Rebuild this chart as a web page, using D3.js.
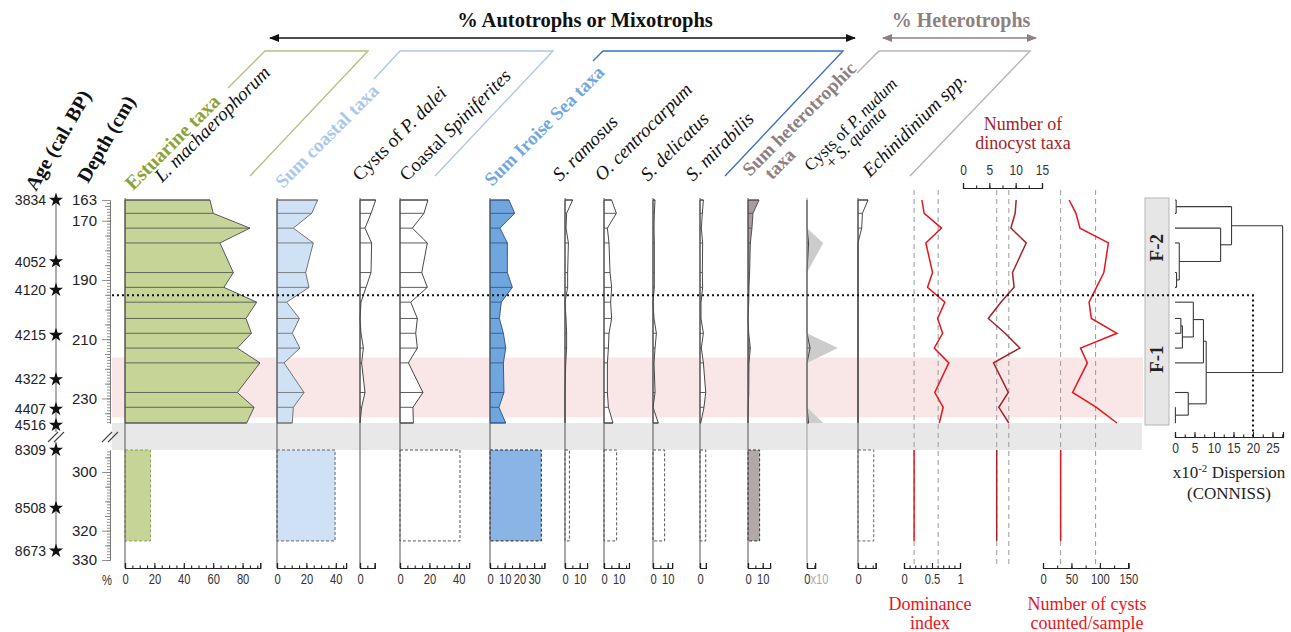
<!DOCTYPE html>
<html>
<head>
<meta charset="utf-8">
<title>Dinocyst diagram</title>
<script src="https://cdn.jsdelivr.net/npm/d3@7/dist/d3.min.js"></script>
<style>
  html,body{margin:0;padding:0;background:#fff;}
  svg{display:block;}
  .serif{font-family:"Liberation Serif","Times New Roman",serif;}
  .sans{font-family:"Liberation Sans",Arial,sans-serif;}
</style>
</head>
<body>
<svg id="chart" width="1291" height="632"></svg>
<script>
// ---------------- data ----------------
// sample depths (cm) of the upper section and the depth interval of the lower section
const sampleDepths = [163, 167.5, 172.5, 177.5, 187.5, 192.5, 197.5, 203, 208, 213, 218, 228, 233, 238.3];
const lowerInterval = [292.5, 323.5];
const highlightInterval = [216.2, 236.4];
const zoneBoundary = 195.2;

const ageLabels = [3834, 4052, 4120, 4215, 4322, 4407, 4516, 8309, 8508, 8673];
const ageDepths = [163, 183.8, 193.4, 208.6, 223.6, 233.6, 239.0, 292.5, 312.3, 326.9];
const depthLabelsUpper = [163, 170, 190, 210, 230];
const depthLabelsLower = [300, 320, 330];

const taxaNames = ["L. machaerophorum", "Sum coastal taxa", "Cysts of P. dalei", "Coastal Spiniferites",
  "Sum Iroise Sea taxa", "S. ramosus", "O. centrocarpum", "S. delicatus", "S. mirabilis",
  "Sum heterotrophic taxa", "Cysts of P. nudum + S. quanta", "Echinidinium spp."];

// percentages per sample (upper section)
const lMachaerophorum     = [57.8, 60.0, 85.0, 64.6, 73.7, 67.3, 89.6, 82.3, 86.0, 76.4, 91.8, 76.4, 87.8, 82.8];
const sumCoastal          = [27.7, 23.6, 11.1, 24.7, 19.5, 21.8, 6.6, 15.2, 10.4, 15.6, 4.8, 18.4, 11.1, 10.4];
const pDalei              = [10.7, 7.5, 3.4, 7.9, 7.5, 4.1, 0.7, 0, 0.7, 2.3, 1.1, 3.4, 1.1, 0];
const coastalSpiniferites = [19.0, 16.3, 8.4, 18.6, 14.8, 18.6, 7.3, 11.8, 10.7, 11.8, 5.7, 15.6, 8.8, 9.1];
const sumIroise           = [12.9, 16.8, 6.8, 11.8, 11.8, 15.2, 7.7, 6.4, 9.1, 10.7, 9.1, 9.5, 6.1, 10.7];
const sRamosus            = [5.2, 1.1, 0.7, 2.3, 1.8, 1.8, 0, 0.7, 1.1, 1.1, 0.5, 0, 0, 0];
const oCentrocarpum       = [5.2, 8.4, 2.3, 3.4, 4.1, 5.2, 4.5, 5.2, 3.4, 3.0, 2.3, 2.3, 3.0, 6.1];
const sDelicatus          = [1.4, 0.9, 0.7, 0.9, 0.9, 0.9, 0, 0.7, 2.3, 1.4, 0.7, 1.4, 0, 3.6];
const sMirabilis          = [2.3, 1.6, 0.9, 1.8, 1.6, 1.8, 0.7, 0.7, 2.3, 0.9, 2.3, 3.9, 2.7, 0.5];
const sumHeterotrophic    = [7.5, 3.4, 2.7, 1.6, 1.1, 0.7, 0.5, 0, 0.5, 1.6, 0.7, 0.5, 0.2, 0];
const pNudumSQuanta       = [0, 0, 0, 1.1, 0, 0, 0, 0, 0, 2.1, 0, 0, 0, 1.1];
const echinidinium        = [6.8, 3.0, 2.5, 0, 0, 0, 0, 0, 0, 0, 0, 0, 0, 0];
const percentSeries = [lMachaerophorum, sumCoastal, pDalei, coastalSpiniferites, sumIroise, sRamosus,
  oCentrocarpum, sDelicatus, sMirabilis, sumHeterotrophic, pNudumSQuanta, echinidinium];

// lower section (single interval) percentages, same order as taxaNames
const lowerPercent = [17.4, 39.5, 0, 40.8, 34.9, 3.0, 8.6, 7.9, 3.9, 7.9, 0, 10.7];

// percentage axes: extent and labelled ticks
const axisMax = [92, 47, 10, 47, 37, 15, 17, 13, 4, 15, 5.5, 12];
const axisTickLabels = [[0,20,40,60,80],[0,20,40],[0],[0,20,40],[0,10,20,30],[0,10],[0,10],[0,10],[0],[0,10],[0],[0]];
const exaggeration = 10;

// diversity indices
const dominanceIndex = [0.32, 0.36, 0.67, 0.39, 0.51, 0.42, 0.73, 0.60, 0.69, 0.54, 0.80, 0.55, 0.70, 0.63];
const dominanceLower = 0.18;
const dominanceRefs = [0.18, 0.61];
const taxaCount = [10.1, 9.9, 9.1, 12.0, 9.4, 9.7, 7.2, 4.8, 8.0, 10.8, 5.8, 8.6, 6.8, 8.7];
const taxaCountLower = 6.4;
const taxaCountRefs = [6.4, 8.7];
const cystsCounted = [46, 58, 65, 115, 107, 94, 81, 85, 130, 66, 78, 52, 94, 130];
const cystsCountedLower = 31;
const cystsCountedRefs = [31, 92.5];

// CONNISS clustering (heights in x10^-2 dispersion, leaves index sampleDepths)
const connissTree = {h: 27.6, children: [
  {h: 14.5, zone: "F-2", children: [
    {h: 0.3, children: [{leaf: 0}, {leaf: 1}]},
    {h: 11.7, children: [{leaf: 2}, {h: 1.1, children: [{leaf: 3}, {h: 0.4, children: [{leaf: 4}, {leaf: 5}]}]}]}
  ]},
  {h: 8.0, zone: "F-1", children: [
    {h: 7.3, children: [
      {h: 4.7, children: [{leaf: 6}, {h: 1.9, children: [{h: 1.5, children: [{leaf: 7}, {leaf: 8}]}, {leaf: 9}]}]},
      {leaf: 10}
    ]},
    {h: 3.4, children: [{leaf: 11}, {h: 0.1, children: [{leaf: 12}, {leaf: 13}]}]}
  ]}
]};
const connissCut = 20;
const connissTicks = [0, 5, 10, 15, 20, 25];

// ---------------- layout ----------------
const svg = d3.select("#chart");
const yUpper = d3.scaleLinear().domain([163, 238.3]).range([200, 423]);
const yLower = d3.scaleLinear().domain([292.5, 330]).range([450, 560]);
const AXIS_Y = 568;
const PX_PER_PCT = 1.47;
const PLOT_TOP = 198;
const BAND_X0 = 112, BAND_X1 = 1143;

const panelZero = [125, 277, 360, 400, 490, 565, 604, 653, 700, 748, 807, 858];
const panelStyle = [
  {fill: "#c6d497", stroke: "#4a4a4a", lowerFill: "#c6d497", lowerStroke: "#8c9a5c"},
  {fill: "#cfe1f4", stroke: "#666",    lowerFill: "#cfe1f4", lowerStroke: "#666"},
  {fill: "#ffffff", stroke: "#333",    lowerFill: "none",    lowerStroke: "#555"},
  {fill: "#ffffff", stroke: "#333",    lowerFill: "#ffffff", lowerStroke: "#555"},
  {fill: "#6fa6dd", stroke: "#2b4f86", lowerFill: "#89b4e4", lowerStroke: "#222"},
  {fill: "#ffffff", stroke: "#333",    lowerFill: "#ffffff", lowerStroke: "#555"},
  {fill: "#ffffff", stroke: "#333",    lowerFill: "#ffffff", lowerStroke: "#555"},
  {fill: "#ffffff", stroke: "#333",    lowerFill: "#ffffff", lowerStroke: "#555"},
  {fill: "#ffffff", stroke: "#333",    lowerFill: "#ffffff", lowerStroke: "#555"},
  {fill: "#a99c9c", stroke: "#444",    lowerFill: "#b3a8a8", lowerStroke: "#333"},
  {fill: "#ffffff", stroke: "#333",    lowerFill: "none",    lowerStroke: "#999"},
  {fill: "#ffffff", stroke: "#333",    lowerFill: "#ffffff", lowerStroke: "#666"}
];

// ---------------- background bands ----------------
svg.append("rect").attr("x", BAND_X0).attr("width", BAND_X1 - BAND_X0)
  .attr("y", yUpper(highlightInterval[0])).attr("height", yUpper(highlightInterval[1]) - yUpper(highlightInterval[0]))
  .attr("fill", "#f9e6e6");
svg.append("rect").attr("x", BAND_X0).attr("width", BAND_X1 - BAND_X0 - 1)
  .attr("y", yUpper(238.3)).attr("height", yLower(292.5) - yUpper(238.3))
  .attr("fill", "#e8e8e8");

// ---------------- helpers ----------------
// condensed tick labels
function styleAxisText(g, size, color) {
  g.selectAll("text").attr("class", "sans").attr("font-size", size).attr("fill", color || "#333")
    .attr("transform", "scale(0.8,1)");
  g.selectAll("line,path").attr("stroke", "#222").attr("stroke-width", 1.1);
}
function bottomAxis(x, max, labels, minorStep, fmt) {
  const minor = svg.append("g").attr("transform", `translate(0,${AXIS_Y})`)
    .call(d3.axisBottom(x).tickValues(d3.range(0, max + 1e-6, minorStep)).tickSize(-2.5).tickSizeOuter(-5).tickFormat(""));
  styleAxisText(minor, 14);
  const major = svg.append("g").attr("transform", `translate(0,${AXIS_Y})`)
    .call(d3.axisBottom(x).tickValues(labels).tickSize(-5).tickSizeOuter(-5).tickPadding(6).tickFormat(fmt || d3.format("")));
  styleAxisText(major, 14);
  return major;
}

// ---------------- percentage panels ----------------
percentSeries.forEach((vals, i) => {
  const st = panelStyle[i];
  const x0 = panelZero[i];
  const x = d3.scaleLinear().domain([0, axisMax[i]]).range([x0, x0 + axisMax[i] * PX_PER_PCT]);
  const pts = sampleDepths.map((d, j) => ({d, v: vals[j]}));
  const g = svg.append("g");

  if (i === 10) {
    // exaggerated (x10) silhouette
    g.append("path").datum(pts)
      .attr("d", d3.area().y(p => yUpper(p.d)).x0(x(0)).x1(p => x(p.v * exaggeration)))
      .attr("fill", "#cccccc");
  }
  g.append("path").datum(pts)
    .attr("d", d3.area().y(p => yUpper(p.d)).x0(x(0)).x1(p => x(p.v)))
    .attr("fill", i === 10 ? "none" : st.fill)
    .attr("stroke", st.stroke).attr("stroke-width", 0.9).attr("stroke-linejoin", "round");
  // sample lines
  g.selectAll("line.sample").data(pts.filter(p => p.v > 0)).join("line")
    .attr("x1", x(0)).attr("x2", p => x(p.v))
    .attr("y1", p => yUpper(p.d)).attr("y2", p => yUpper(p.d))
    .attr("stroke", st.stroke).attr("stroke-width", 0.8);
  // lower-section interval
  if (lowerPercent[i] > 0) {
    g.append("rect")
      .attr("x", x(0)).attr("width", x(lowerPercent[i]) - x(0))
      .attr("y", yLower(lowerInterval[0])).attr("height", yLower(lowerInterval[1]) - yLower(lowerInterval[0]))
      .attr("fill", st.lowerFill).attr("stroke", st.lowerStroke).attr("stroke-width", 1)
      .attr("stroke-dasharray", "3,2");
  }
  // zero line
  g.append("line").attr("x1", x(0)).attr("x2", x(0)).attr("y1", PLOT_TOP).attr("y2", AXIS_Y)
    .attr("stroke", i === 10 ? "#999" : "#555").attr("stroke-width", 1);

  const ax = bottomAxis(x, axisMax[i], axisTickLabels[i], 5);
  if (i === 10) {
    ax.selectAll(".tick text").text(null).attr("text-anchor", "start").attr("x", -4)
      .call(t => t.append("tspan").text("0"))
      .call(t => t.append("tspan").attr("fill", "#aaa").text("x10"));
  }
});

svg.append("text").attr("class", "sans").attr("x", 107).attr("y", 585).attr("text-anchor", "middle")
  .attr("font-size", 14).attr("fill", "#333").attr("transform", "translate(21.4,0) scale(0.8,1)").text("%");

// ---------------- diversity curves ----------------
const domX = d3.scaleLinear().domain([0, 1]).range([904, 960]);
const taxX = d3.scaleLinear().domain([0, 15]).range([963, 1042]);
const cysX = d3.scaleLinear().domain([0, 150]).range([1043, 1128.3]);

function indexCurve(x, vals, lower, refs, color) {
  svg.selectAll(null).data(refs).join("line")
    .attr("x1", d => x(d)).attr("x2", d => x(d)).attr("y1", 190).attr("y2", AXIS_Y - 3)
    .attr("stroke", "#9a9a9a").attr("stroke-width", 1).attr("stroke-dasharray", "5,4");
  svg.append("path").datum(sampleDepths.map((d, j) => [x(vals[j]), yUpper(d)]))
    .attr("d", d3.line()).attr("fill", "none").attr("stroke", color).attr("stroke-width", 1.5);
  svg.append("line").attr("x1", x(lower)).attr("x2", x(lower))
    .attr("y1", yLower(lowerInterval[0])).attr("y2", yLower(lowerInterval[1]))
    .attr("stroke", color).attr("stroke-width", 1.5);
}
indexCurve(domX, dominanceIndex, dominanceLower, dominanceRefs, "#e8151b");
indexCurve(taxX, taxaCount, taxaCountLower, taxaCountRefs, "#a3232a");
indexCurve(cysX, cystsCounted, cystsCountedLower, cystsCountedRefs, "#e8151b");

bottomAxis(domX, 1, [0, 0.5, 1], 0.1, d => d === 0.5 ? "0.5" : d3.format("d")(d));
bottomAxis(cysX, 150, [0, 50, 100, 150], 25);
{
  const minor = svg.append("g").attr("transform", "translate(0,188)")
    .call(d3.axisTop(taxX).tickValues(d3.range(0, 15.01, 2.5)).tickSize(2.5).tickSizeOuter(5).tickFormat(""));
  styleAxisText(minor, 14);
  const major = svg.append("g").attr("transform", "translate(0,188)")
    .call(d3.axisTop(taxX).tickValues([0, 5, 10, 15]).tickSize(5).tickSizeOuter(5).tickPadding(8));
  styleAxisText(major, 15);
}

// index titles
function titleLines(cx, y0, lines, color, size, lh) {
  const t = svg.append("text").attr("class", "serif").attr("text-anchor", "middle")
    .attr("font-size", size).attr("fill", color);
  lines.forEach((s, k) => t.append("tspan").attr("x", cx).attr("y", y0 + k * lh).text(s));
}
titleLines(1023, 130, ["Number of", "dinocyst taxa"], "#a3232a", 18, 19);
titleLines(930, 610, ["Dominance", "index"], "#e8151b", 18, 19);
titleLines(1087, 610, ["Number of cysts", "counted/sample"], "#e8151b", 18, 19);

// ---------------- depth and age axes ----------------
{
  const up = svg.append("g").attr("transform", "translate(110,0)");
  up.append("g").call(d3.axisLeft(yUpper).tickValues(d3.range(164, 239)).tickSize(3).tickSizeOuter(0).tickFormat(""));
  up.append("g").call(d3.axisLeft(yUpper).tickValues([165, 175, 180, 185, 195, 200, 205, 215, 220, 225, 235]).tickSize(5).tickSizeOuter(0).tickFormat(""));
  up.append("g").call(d3.axisLeft(yUpper).tickValues(depthLabelsUpper).tickSize(8).tickSizeOuter(0).tickPadding(5));
  const lo = svg.append("g").attr("transform", "translate(110,0)");
  lo.append("g").call(d3.axisLeft(yLower).tickValues(d3.range(293, 331)).tickSize(3).tickSizeOuter(0).tickFormat(""));
  lo.append("g").call(d3.axisLeft(yLower).tickValues([295, 305, 310, 315, 325]).tickSize(5).tickSizeOuter(0).tickFormat(""));
  lo.append("g").call(d3.axisLeft(yLower).tickValues(depthLabelsLower).tickSize(8).tickSizeOuter(0).tickPadding(5));
  [up, lo].forEach(g => {
    g.selectAll("line,path").attr("stroke", "#777").attr("stroke-width", 0.8);
    g.selectAll("text").attr("class", "sans").attr("font-size", 15).attr("fill", "#222");
  });
}
const yAge = d => d < 260 ? yUpper(d) : yLower(d);
svg.append("line").attr("x1", 56).attr("x2", 56).attr("y1", yAge(ageDepths[0])).attr("y2", 432)
  .attr("stroke", "#777").attr("stroke-width", 1.2);
svg.append("line").attr("x1", 56).attr("x2", 56).attr("y1", 442).attr("y2", yAge(ageDepths[ageDepths.length - 1]))
  .attr("stroke", "#777").attr("stroke-width", 1.2);
// section break marks
[[56, 437], [110, 437]].forEach(([cx, cy]) => {
  [-3, 3].forEach(o => svg.append("line")
    .attr("x1", cx - 5 + o).attr("y1", cy + 5).attr("x2", cx + 5 + o).attr("y2", cy - 5)
    .attr("stroke", "#444").attr("stroke-width", 1.1));
});
svg.selectAll("path.star").data(ageDepths).join("path")
  .attr("transform", d => `translate(56,${yAge(d)})`)
  .attr("d", d3.symbol(d3.symbolStar, 62)).attr("fill", "#111");
svg.selectAll("text.age").data(ageLabels).join("text")
  .attr("class", "sans").attr("font-size", 14).attr("fill", "#222")
  .attr("text-anchor", "end").attr("x", 46).attr("y", (d, k) => yAge(ageDepths[k]) + 5).text(d => d);

// ---------------- CONNISS dendrogram ----------------
const dx = d3.scaleLinear().domain([0, 27.7]).range([1175, 1283]);
const root = d3.hierarchy(connissTree);
root.eachAfter(n => {
  if (!n.children) { n.py = yUpper(sampleDepths[n.data.leaf]); n.ph = 0; }
  else { n.py = d3.mean(n.children, c => c.py); n.ph = n.data.h; }
});
const dg = svg.append("g").attr("stroke", "#3a3a3a").attr("stroke-width", 1.1).attr("fill", "none");
root.descendants().filter(n => n.children).forEach(n => {
  const ys = n.children.map(c => c.py);
  dg.append("line").attr("x1", dx(n.ph)).attr("x2", dx(n.ph)).attr("y1", d3.min(ys)).attr("y2", d3.max(ys));
  n.children.forEach(c => dg.append("line").attr("x1", dx(c.ph)).attr("x2", dx(n.ph)).attr("y1", c.py).attr("y2", c.py));
});
{
  const minor = svg.append("g").attr("transform", "translate(0,437)")
    .call(d3.axisBottom(dx).tickValues(d3.range(0, 27.6, 2.5)).tickSize(-2.5).tickSizeOuter(-5).tickFormat(""));
  styleAxisText(minor, 15);
  const major = svg.append("g").attr("transform", "translate(0,437)")
    .call(d3.axisBottom(dx).tickValues(connissTicks).tickSize(-5).tickSizeOuter(-5).tickPadding(5));
  styleAxisText(major, 15);
}
{
  const t = svg.append("text").attr("class", "serif").attr("text-anchor", "middle").attr("font-size", 17).attr("fill", "#222");
  t.append("tspan").attr("x", 1229).attr("y", 478).text("x10");
  t.append("tspan").attr("dy", -6).attr("font-size", 11).text("-2");
  t.append("tspan").attr("dy", 6).text(" Dispersion");
  t.append("tspan").attr("x", 1229).attr("y", 499).text("(CONNISS)");
}
// zone column
svg.append("rect").attr("x", 1145).attr("width", 24).attr("y", yUpper(163) - 2).attr("height", yUpper(238.3) - yUpper(163) + 4)
  .attr("fill", "#e6e6e6").attr("stroke", "#b5b5b5");
root.children.forEach(z => {
  const top = z.data.zone === "F-2" ? 163 : zoneBoundary;
  const bot = z.data.zone === "F-2" ? zoneBoundary : 238.3;
  const cy = (yUpper(top) + yUpper(bot)) / 2;
  svg.append("text").attr("class", "serif").attr("font-weight", "bold").attr("font-size", 19).attr("fill", "#222")
    .attr("text-anchor", "middle").attr("transform", `translate(1163,${cy}) rotate(-90)`).text(z.data.zone);
});
// zone boundary (dotted) and cut level
svg.append("path")
  .attr("d", `M${BAND_X0},${yUpper(zoneBoundary)}H${dx(connissCut)}V437`)
  .attr("fill", "none").attr("stroke", "#111").attr("stroke-width", 2).attr("stroke-dasharray", "2,3");

// ---------------- header ----------------
const defs = svg.append("defs");
[["arrBlack", "#111"], ["arrBrown", "#8e8080"]].forEach(([id, c]) => {
  defs.append("marker").attr("id", id).attr("viewBox", "0 0 10 8").attr("refX", 9).attr("refY", 4)
    .attr("markerWidth", 10).attr("markerHeight", 8).attr("markerUnits", "userSpaceOnUse")
    .attr("orient", "auto-start-reverse")
    .append("path").attr("d", "M0,0L10,4L0,8Z").attr("fill", c);
});
svg.append("line").attr("x1", 270).attr("x2", 855).attr("y1", 38).attr("y2", 38)
  .attr("stroke", "#111").attr("stroke-width", 1.5)
  .attr("marker-start", "url(#arrBlack)").attr("marker-end", "url(#arrBlack)");
svg.append("line").attr("x1", 883).attr("x2", 1036).attr("y1", 38).attr("y2", 38)
  .attr("stroke", "#8e8080").attr("stroke-width", 1.5)
  .attr("marker-start", "url(#arrBrown)").attr("marker-end", "url(#arrBrown)");
svg.append("text").attr("class", "serif").attr("font-weight", "bold").attr("font-size", 20.5).attr("fill", "#111")
  .attr("x", 585).attr("y", 27).attr("text-anchor", "middle").text("% Autotrophs or Mixotrophs");
svg.append("text").attr("class", "serif").attr("font-weight", "bold").attr("font-size", 20).attr("fill", "#8e8080")
  .attr("x", 961).attr("y", 27).attr("text-anchor", "middle").text("% Heterotrophs");

// group brackets
const brackets = [
  {c: "#b3c27c", pts: [[228, 88], [265, 51], [368, 51], [250, 176]]},
  {c: "#a9c9ec", pts: [[374, 79], [400, 51], [553, 51], [435, 176]]},
  {c: "#3a72c0", pts: [[593, 61], [603, 51], [843, 51], [725, 176]]},
  {c: "#bbb3b3", pts: [[857, 73], [879, 51], [1030, 51], [910, 176]]}
];
brackets.forEach(b => svg.append("path").attr("d", d3.line()(b.pts)).attr("fill", "none")
  .attr("stroke", b.c).attr("stroke-width", 1.4));

// rotated column titles
const I = s => ({t: s, i: true}), N = s => ({t: s}), B = s => ({t: s, b: true});
const headers = [
  {x: 36,  y: 192, rot: -60, size: 20, lines: [[B("Age (cal. BP)")]], color: "#111"},
  {x: 88,  y: 184, rot: -60, size: 20, lines: [[B("Depth (cm)")]], color: "#111"},
  {x: 133, y: 191, size: 20, lines: [[B("Estuarine taxa")]], color: "#8ca23a"},
  {x: 162, y: 183, lines: [[I("L. machaerophorum")]], color: "#111"},
  {x: 283, y: 189, lines: [[B("Sum coastal taxa")]], color: "#a9c9ec"},
  {x: 360, y: 182, lines: [[N("Cysts of "), I("P. dalei")]], color: "#111"},
  {x: 407, y: 182, lines: [[N("Coastal "), I("Spiniferites")]], color: "#111"},
  {x: 492, y: 187, lines: [[B("Sum Iroise Sea taxa")]], color: "#73a7df"},
  {x: 560, y: 182, lines: [[I("S. ramosus")]], color: "#111"},
  {x: 602, y: 182, lines: [[I("O. centrocarpum")]], color: "#111"},
  {x: 648, y: 182, lines: [[I("S. delicatus")]], color: "#111"},
  {x: 693, y: 182, lines: [[I("S. mirabilis")]], color: "#111"},
  {x: 750, y: 177, lines: [[B("Sum heterotrophic")], [B("taxa")]], color: "#8e8080", indent: 13, lh: 18},
  {x: 811, y: 172, lines: [[N("Cysts of "), I("P. nudum")], [N("+ "), I("S. quanta")]], color: "#111", indent: 17, lh: 13, size: 17},
  {x: 870, y: 178, lines: [[I("Echinidinium spp.")]], color: "#111"}
];
headers.forEach(h => {
  const t = svg.append("text").attr("class", "serif").attr("font-size", h.size || 19).attr("fill", h.color)
    .attr("transform", `translate(${h.x},${h.y}) rotate(${h.rot || -45})`);
  h.lines.forEach((parts, li) => parts.forEach((p, pi) => {
    const s = t.append("tspan").text(p.t);
    if (pi === 0) s.attr("x", li ? h.indent : 0).attr("y", li * (h.lh || 0));
    if (p.i) s.attr("font-style", "italic");
    if (p.b) s.attr("font-weight", "bold");
  }));
});
</script>
</body>
</html>
